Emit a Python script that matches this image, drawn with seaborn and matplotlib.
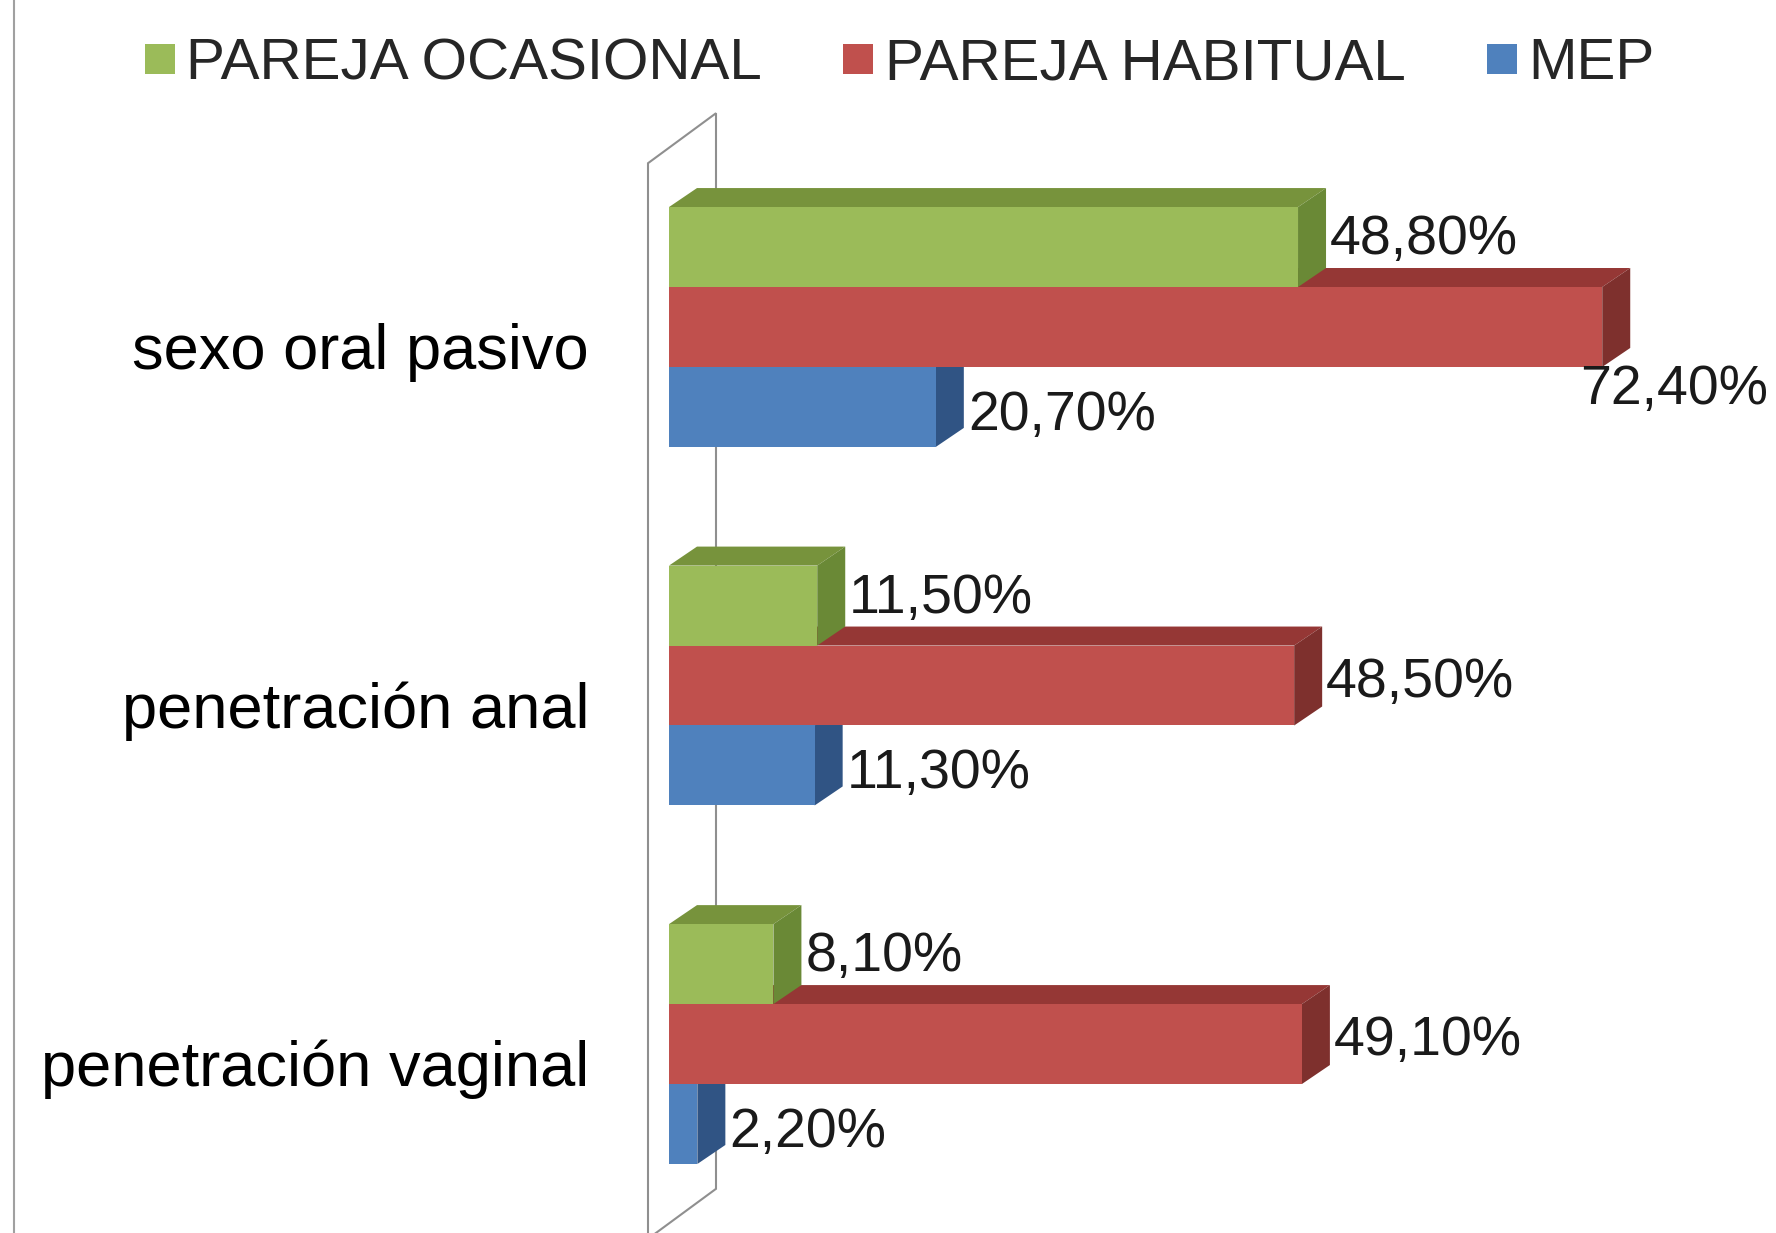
import matplotlib
matplotlib.use("Agg")
import matplotlib.pyplot as plt
from matplotlib import font_manager
from matplotlib.lines import Line2D
from matplotlib.patches import Polygon
from matplotlib.transforms import IdentityTransform, ScaledTranslation
import seaborn as sns
import pandas as pd

# datos del grafico
practicas = ["sexo oral pasivo", "penetración anal", "penetración vaginal"]
parejas = ["PAREJA OCASIONAL", "PAREJA HABITUAL", "MEP"]
ocasional = [48.8, 11.5, 8.1]
habitual = [72.4, 48.5, 49.1]
mep = [20.7, 11.3, 2.2]

colores = ["#9BBB59", "#C0504D", "#4F81BD"]
colores_techo = ["#77933C", "#953735", "#3A6598"]
colores_lado = ["#6A8936", "#7E302D", "#305484"]
ajuste_etiqueta = [7, 3, -9]   # px, subida de la etiqueta segun serie

W, H, DPI = 1776, 1233, 100
X0_PX = 669          # donde empieza el eje de valores
PX_POR_PCT = 12.89
DX, DY = 28, 19      # profundidad del efecto 3d, en pixeles

df = pd.DataFrame({
    "practica": practicas * 3,
    "pareja": [p for p in parejas for _ in practicas],
    "pct": ocasional + habitual + mep,
})

sns.set_style("white")
plt.rcParams["font.family"] = ["Liberation Sans", "DejaVu Sans"]

fuentes = {f.name for f in font_manager.fontManager.ttflist}
narrow = "Liberation Sans Narrow" in fuentes
fuente_leyenda = "Liberation Sans Narrow" if narrow else "Liberation Sans"

fig = plt.figure(figsize=(W / DPI, H / DPI), dpi=DPI, facecolor="white")
ax = fig.add_axes([X0_PX / W, 0, 1 - X0_PX / W, 1])
sns.barplot(data=df, x="pct", y="practica", hue="pareja", order=practicas,
            hue_order=parejas, palette=colores, width=0.669, gap=0,
            saturation=1, legend=False, orient="h", errorbar=None,
            linewidth=0, ax=ax)
ax.set_xlim(0, (W - X0_PX) / PX_POR_PCT)
ax.set_ylim(2.527, -0.912)
ax.set_xticks([])
ax.set_xlabel("")
ax.set_ylabel("")
sns.despine(ax=ax, left=True, bottom=True)
ax.patch.set_alpha(0)

to_px = ax.transData.transform

# pared lateral (plano en x=0)
(xw, ytop), (_, ybot) = to_px([(0, -0.5), (0, 2.5)])
pared = Polygon([(xw - 21, ytop - 15.5), (xw + 47, ytop + 34.5),
                 (xw + 47, ybot + 34.5), (xw - 21, ybot - 15.5)],
                closed=True, transform=IdentityTransform(), facecolor="white",
                edgecolor="#8f8f8f", linewidth=1.5, zorder=1, clip_on=False)
ax.add_patch(pared)

# caras 3d de las barras
barras = []
for k, cont in enumerate(ax.containers):
    for bar, val in zip(cont, cont.datavalues):
        x0, y0 = bar.get_x(), bar.get_y()
        p1, p2 = to_px([(x0, y0), (x0 + bar.get_width(), y0 + bar.get_height())])
        xl, xr = min(p1[0], p2[0]), max(p1[0], p2[0])
        yb, yt = min(p1[1], p2[1]), max(p1[1], p2[1])
        barras.append(((yb + yt) / 2, k, bar, xl, xr, yb, yt, val))

barras.sort(key=lambda b: b[0])
renderer = fig.canvas.get_renderer()
for i, (yc, k, bar, xl, xr, yb, yt, val) in enumerate(barras):
    z = 3 + i * 0.1
    bar.set_zorder(z + 0.05)
    techo = Polygon([(xl, yt), (xr, yt), (xr + DX, yt + DY), (xl + DX, yt + DY)],
                    closed=True, transform=IdentityTransform(),
                    facecolor=colores_techo[k], edgecolor="none", zorder=z, clip_on=False)
    lado = Polygon([(xr, yt), (xr, yb), (xr + DX, yb + DY), (xr + DX, yt + DY)],
                   closed=True, transform=IdentityTransform(),
                   facecolor=colores_lado[k], edgecolor="none", zorder=z, clip_on=False)
    ax.add_patch(techo)
    ax.add_patch(lado)

    etiqueta = f"{val:.2f}%".replace(".", ",")
    txt = ax.text(xr + DX + 4, yc + ajuste_etiqueta[k], etiqueta,
                  transform=IdentityTransform(), ha="left", va="center",
                  fontsize=40, color="#1a1a1a", zorder=20)
    bb = txt.get_window_extent(renderer)
    if bb.x1 > W - 4:
        # no cabe a la derecha: va debajo, pegada al borde
        txt.set_ha("right")
        txt.set_position((W - 8, yb - 23))

# etiquetas de categoria
ax.tick_params(axis="y", length=0, pad=(X0_PX - 589) * 0.72, labelsize=45.5, labelcolor="black")
bajar = ScaledTranslation(0, -0.19, fig.dpi_scale_trans)
for lab in ax.get_yticklabels():
    lab.set_transform(lab.get_transform() + bajar)

# leyenda
handles = [Line2D([], [], marker="s", linestyle="none", markersize=21,
                  markerfacecolor=c, markeredgewidth=0) for c in colores]
fig.legend(handles, parejas, loc="center", bbox_to_anchor=(900 / W, 1 - 64 / H),
           ncol=3, frameon=False,
           prop={"family": fuente_leyenda, "size": 47 if narrow else 42},
           handlelength=0.5, handletextpad=0.2, columnspacing=1.4, borderaxespad=0)

# borde izquierdo gris
fig.add_artist(Line2D([14 / W, 14 / W], [0, 1], transform=fig.transFigure,
                      color="#a0a0a0", linewidth=1.5))

fig.savefig("out.png", dpi=DPI, facecolor="white")
